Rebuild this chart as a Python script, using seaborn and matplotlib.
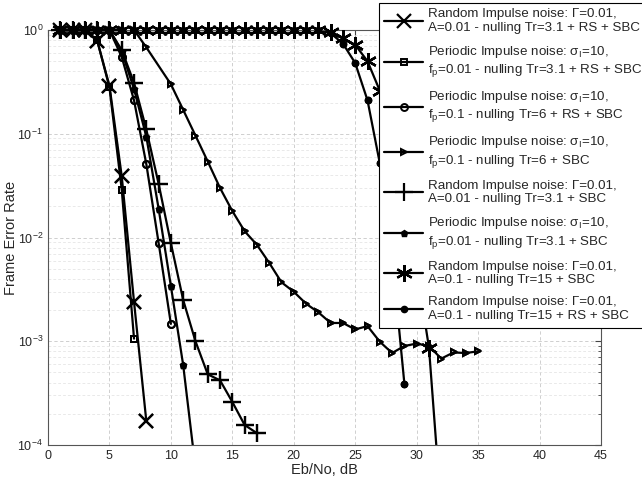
import numpy as np
import pandas as pd
import matplotlib
matplotlib.use("Agg")
import matplotlib.pyplot as plt
import seaborn as sns
from matplotlib.ticker import LogLocator, NullFormatter, MultipleLocator

# ---------------- data ----------------
x_rand_a001_rs = [1, 2, 3, 4, 5, 6, 7, 8]
fer_rand_a001_rs = [1, 1, 1, 0.79, 0.29, 0.039, 0.0024, 0.00017]

x_per_fp001_rs = [1, 2, 3, 4, 5, 6, 7]
fer_per_fp001_rs = [1, 1, 1, 0.8, 0.28, 0.029, 0.00106]

x_per_fp01_rs = [1, 2, 3, 4, 5, 6, 7, 8, 9, 10]
fer_per_fp01_rs = [1, 1, 1, 1, 1, 0.55, 0.21, 0.051, 0.0089, 0.00147]

x_per_fp01 = [1, 2, 3, 4, 5, 6, 7, 8, 10, 11, 12, 13, 14, 15, 16, 17, 18, 19, 20,
              21, 22, 23, 24, 25, 26, 27, 28, 29, 30, 31, 32, 33, 34, 35]
fer_per_fp01 = [1, 1, 1, 1, 1, 1, 1, 0.68, 0.30, 0.17, 0.096, 0.054, 0.030, 0.018,
                0.0115, 0.0085, 0.0057, 0.0037, 0.0030, 0.0023, 0.0019, 0.0015,
                0.0015, 0.0013, 0.0014, 0.00099, 0.00077, 0.0009, 0.00095, 0.0009,
                0.00068, 0.00078, 0.00077, 0.0008]

x_rand_a001 = [1, 2, 3, 4, 5, 6, 7, 8, 9, 10, 11, 12, 13, 14, 15, 16, 17]
fer_rand_a001 = [1, 1, 1, 1, 1, 0.64, 0.31, 0.11, 0.033, 0.0088, 0.0025, 0.001,
                 0.00048, 0.00042, 0.00026, 0.000156, 0.00013]

x_per_fp001 = [1, 2, 3, 4, 5, 6, 7, 8, 9, 10, 11, 12]
fer_per_fp001 = [1, 1, 1, 1, 1, 0.62, 0.27, 0.094, 0.019, 0.0034, 0.00059, 0.00006]

x_rand_a01 = list(range(1, 33))
fer_rand_a01 = [1] * 22 + [0.95, 0.83, 0.72, 0.50, 0.26, 0.09, 0.025, 0.005,
                           0.00087, 0.000023]

x_rand_a01_rs = list(range(1, 30))
fer_rand_a01_rs = [1] * 22 + [0.93, 0.74, 0.48, 0.21, 0.052, 0.0066, 0.00039]

labels = [
    "Random Impulse noise: Γ=0.01,\nA=0.01 - nulling Tr=3.1 + RS + SBC",
    "Periodic Impulse noise: $\\mathrm{\\sigma}_{\\mathrm{I}}$=10,\n$\\mathrm{f}_{\\mathrm{p}}$=0.01 - nulling Tr=3.1 + RS + SBC",
    "Periodic Impulse noise: $\\mathrm{\\sigma}_{\\mathrm{I}}$=10,\n$\\mathrm{f}_{\\mathrm{p}}$=0.1 - nulling Tr=6 + RS + SBC",
    "Periodic Impulse noise: $\\mathrm{\\sigma}_{\\mathrm{I}}$=10,\n$\\mathrm{f}_{\\mathrm{p}}$=0.1 - nulling Tr=6 + SBC",
    "Random Impulse noise: Γ=0.01,\nA=0.01 - nulling Tr=3.1 + SBC",
    "Periodic Impulse noise: $\\mathrm{\\sigma}_{\\mathrm{I}}$=10,\n$\\mathrm{f}_{\\mathrm{p}}$=0.01 - nulling Tr=3.1 + SBC",
    "Random Impulse noise: Γ=0.01,\nA=0.1 - nulling Tr=15 + SBC",
    "Random Impulse noise: Γ=0.01,\nA=0.1 - nulling Tr=15 + RS + SBC",
]

series = [
    (x_rand_a001_rs, fer_rand_a001_rs),
    (x_per_fp001_rs, fer_per_fp001_rs),
    (x_per_fp01_rs, fer_per_fp01_rs),
    (x_per_fp01, fer_per_fp01),
    (x_rand_a001, fer_rand_a001),
    (x_per_fp001, fer_per_fp001),
    (x_rand_a01, fer_rand_a01),
    (x_rand_a01_rs, fer_rand_a01_rs),
]

styles = [
    dict(marker="x", markersize=10, mfc="none", mew=1.6),
    dict(marker="s", markersize=4, mfc="none", mew=1.4),
    dict(marker="o", markersize=5, mfc="none", mew=1.4),
    dict(marker=">", markersize=5, mfc="none", mew=1.4),
    dict(marker="+", markersize=13, mfc="none", mew=1.6),
    dict(marker="p", markersize=4.5, mfc="black", mew=1.0),
    dict(marker=(6, 2, 0), markersize=12, mfc="none", mew=1.6),
    dict(marker="o", markersize=4.5, mfc="black", mew=1.0),
]

# ---------------- style ----------------
sns.set_style("white")
plt.rcParams["font.family"] = ["Liberation Sans", "DejaVu Sans"]
plt.rcParams["mathtext.fontset"] = "custom"
plt.rcParams["mathtext.rm"] = "Liberation Sans"
plt.rcParams["mathtext.it"] = "Liberation Sans:italic"
plt.rcParams["mathtext.bf"] = "Liberation Sans:bold"

fig = plt.figure(figsize=(6.42, 4.80), dpi=100)
ax = fig.add_axes([48 / 642, 35 / 480, 553 / 642, 415 / 480])

for (xs, ys), lab, st in zip(series, labels, styles):
    df = pd.DataFrame({"Eb/No": xs, "FER": ys})
    sns.lineplot(data=df, x="Eb/No", y="FER", ax=ax, color="black", lw=1.6,
                 label=lab, mec="black", estimator=None, sort=False, **st)
    inside = df[df["FER"] >= 1e-4]
    ax.plot(inside["Eb/No"], inside["FER"], linestyle="none", color="black",
            mec="black", clip_on=False, zorder=5, **st)

ax.set_yscale("log")
ax.set_xlim(0, 45)
ax.set_ylim(1e-4, 1)
ax.xaxis.set_major_locator(MultipleLocator(5))
ax.yaxis.set_major_locator(LogLocator(base=10, numticks=10))
ax.yaxis.set_minor_locator(LogLocator(base=10, subs=np.arange(2, 10), numticks=20))
ax.yaxis.set_minor_formatter(NullFormatter())

ax.grid(True, which="major", axis="both", color="#c8c8c8", linestyle=(0, (4, 3)), lw=0.6)
ax.grid(True, which="minor", axis="y", color="#e0e0e0", linestyle=(0, (4, 3)), lw=0.5)
ax.set_axisbelow(True)

ax.tick_params(which="both", direction="in", top=True, right=True, labelsize=9,
               color="#444444")
ax.tick_params(which="major", length=4)
ax.tick_params(which="minor", length=2)
for s in ax.spines.values():
    s.set_color("#555555")
    s.set_linewidth(0.8)

ax.set_xlabel("Eb/No, dB", fontsize=10.5, labelpad=1)
ax.set_ylabel("Frame Error Rate", fontsize=10.5)
ax.yaxis.set_label_coords(-0.054, 0.5)

leg = ax.legend(loc="upper left", bbox_to_anchor=(379 / 642, 1 - 3 / 480),
                bbox_transform=fig.transFigure, fontsize=9.6, frameon=True,
                fancybox=False, framealpha=1, edgecolor="black",
                handlelength=2.9, handletextpad=0.4, labelspacing=0.75,
                borderpad=0.4, borderaxespad=0)
leg.get_frame().set_linewidth(0.8)

fig.savefig("out.png", dpi=100)
